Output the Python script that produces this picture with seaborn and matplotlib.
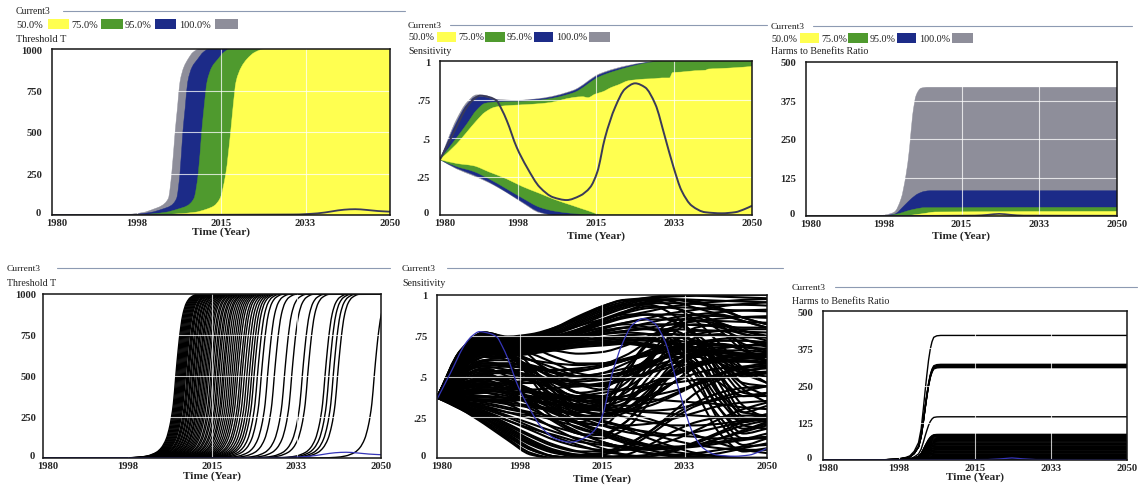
import numpy as np
import pandas as pd
import matplotlib
matplotlib.use("Agg")
import matplotlib.pyplot as plt
import matplotlib.transforms as mtransforms
from matplotlib.path import Path
from matplotlib.patches import PathPatch, Rectangle
import seaborn as sns

# ------------------------------------------------------------------ data
YEAR_TICKS = [1980, 1997.5, 2015, 2032.5, 2050]
YEAR_LABELS = ["1980", "1998", "2015", "2033", "2050"]
BAND_LABELS = ["50.0%", "75.0%", "95.0%", "100.0%"]
BAND_COLORS = ["#ffff50", "#4f9a2e", "#1c2b88", "#8e8e9a"]

# Threshold T: upper confidence bounds (lower bounds stay at ~0)
thr_grey_t = [1980, 1995, 1999, 2001, 2002.7, 2004.1, 2004.8, 2005.5, 2006.0, 2006.5, 2007.3, 2008.2, 2009.2, 2010.5, 2050]
thr_grey_v = [0, 2, 16, 35, 56, 100, 250, 500, 650, 800, 890, 940, 980, 1000, 1000]
thr_blue_t = [1980, 1996, 2000.5, 2002.8, 2004.6, 2005.8, 2006.5, 2007.1, 2007.6, 2008.1, 2009.0, 2010.2, 2011.3, 2012.5, 2050]
thr_blue_v = [0, 2, 16, 35, 56, 100, 250, 500, 650, 800, 890, 940, 980, 1000, 1000]
thr_green_t = [1980, 1998, 2003.5, 2006.0, 2008.0, 2009.4, 2010.3, 2011.0, 2011.5, 2012.1, 2013.1, 2014.4, 2015.6, 2016.8, 2050]
thr_green_v = [0, 2, 16, 35, 56, 100, 250, 500, 650, 800, 890, 940, 980, 1000, 1000]
thr_yellow_t = [1980, 2002, 2009.5, 2012.0, 2013.6, 2014.8, 2016.0, 2017.0, 2017.5, 2018.1, 2019.2, 2020.4, 2022.0, 2024.0, 2050]
thr_yellow_v = [0, 2, 16, 35, 56, 100, 250, 500, 650, 800, 890, 940, 980, 1000, 1000]
thr_cur_t = [1980, 2000, 2030, 2035, 2038, 2040.5, 2042.8, 2045, 2047.5, 2050]
thr_cur_v = [0, 1, 3, 10, 22, 32, 35, 31, 24, 20]

# Threshold T individual runs: one S-shaped rise, shifted to each run's 500-crossing year
thr_shape_dt = [-40, -12, -8, -6, -4, -3, -2, -1.2, -0.5, 0, 0.5, 1.0, 1.5, 2.2, 3.0, 4.5, 70]
thr_shape_v = [0, 0, 4, 12, 35, 62, 115, 200, 330, 500, 660, 790, 880, 945, 978, 998, 1000]
thr_run_mid = [2007.5, 2007.7, 2007.9, 2008.1, 2008.3, 2008.5, 2008.7, 2008.9, 2009.1, 2009.3,
               2009.5, 2009.8, 2010.0, 2010.2, 2010.5, 2010.7, 2011.0, 2011.2, 2011.5, 2011.7,
               2012.0, 2012.3, 2012.5, 2012.8, 2013.1, 2013.4, 2013.7, 2014.0, 2014.3, 2014.7,
               2015.0, 2015.4, 2015.7, 2016.1, 2016.4, 2016.8, 2017.2, 2017.5, 2017.9, 2018.3,
               2018.7, 2019.1, 2019.5, 2019.9, 2020.3, 2020.8, 2021.2, 2021.7, 2022.2, 2022.7,
               2023.2, 2023.7, 2024.4, 2025.2, 2026.5, 2027.9, 2030.0, 2031.5, 2033.7, 2034.8,
               2038.4, 2039.2, 2040.1, 2041.0, 2048.6]

# Sensitivity: confidence bounds
sens_hi_t = [1980, 1983.7, 1986, 1988.2, 1990.1, 1992.3, 1997.2, 2002.4, 2009.9, 2015.9, 2022.3, 2026, 2029.8, 2050]
sens_grey_hi = [0.36, 0.62, 0.73, 0.78, 0.778, 0.752, 0.745, 0.757, 0.81, 0.918, 0.972, 0.99, 1.0, 1.0]
sens_blue_hi = [0.36, 0.60, 0.715, 0.768, 0.766, 0.748, 0.742, 0.753, 0.805, 0.912, 0.967, 0.988, 1.0, 1.0]
sens_green_hi = [0.36, 0.50, 0.59, 0.68, 0.725, 0.733, 0.736, 0.746, 0.793, 0.90, 0.96, 0.985, 1.0, 1.0]
sens_yellow_hi_t = [1980, 1983.7, 1986, 1988.2, 1990.1, 1992.3, 1995, 1998, 2001, 2004.7, 2007, 2009.9, 2012,
                    2013.2, 2014.8, 2016.5, 2018.5, 2020, 2022.3, 2024, 2026, 2028, 2029.8, 2031.5, 2032.2,
                    2034, 2037.3, 2039.5, 2040.3, 2042, 2044.8, 2047, 2049.3, 2050]
sens_yellow_hi = [0.36, 0.46, 0.537, 0.612, 0.667, 0.70, 0.71, 0.715, 0.72, 0.73, 0.745, 0.763, 0.768,
                  0.762, 0.785, 0.80, 0.829, 0.845, 0.872, 0.878, 0.883, 0.885, 0.89, 0.89, 0.925,
                  0.928, 0.937, 0.94, 0.948, 0.95, 0.954, 0.958, 0.963, 0.965]
sens_lo_t = [1980, 1983.7, 1987.5, 1991, 1995, 1998.5, 2002.4, 2005.8, 2009.9, 2013, 2016, 2050]
sens_grey_lo = [0.36, 0.30, 0.255, 0.21, 0.145, 0.08, 0.015, 0, 0, 0, 0, 0]
sens_blue_lo = [0.36, 0.305, 0.262, 0.215, 0.148, 0.085, 0.02, 0, 0, 0, 0, 0]
sens_green_lo = [0.36, 0.315, 0.283, 0.235, 0.169, 0.11, 0.05, 0.025, 0.01, 0.003, 0, 0]
sens_yellow_lo = [0.36, 0.335, 0.32, 0.28, 0.234, 0.185, 0.14, 0.10, 0.06, 0.03, 0.005, 0]

# Sensitivity: the Current3 run
sens_cur_t = [1980, 1983, 1986, 1987.5, 1989, 1991.2, 1992.7, 1993.8, 1995, 1997.2, 1999.5, 2002.4,
              2005.4, 2008.4, 2011.4, 2013.7, 2015.3, 2017, 2019.3, 2021.5, 2023.8, 2026, 2028.3,
              2030.5, 2032.4, 2034.2, 2036.5, 2039.5, 2043.2, 2046.2, 2048.4, 2050]
sens_cur_v = [0.36, 0.53, 0.70, 0.75, 0.775, 0.764, 0.742, 0.688, 0.612, 0.44, 0.31, 0.18,
              0.115, 0.097, 0.125, 0.18, 0.28, 0.50, 0.70, 0.818, 0.855, 0.829, 0.72,
              0.504, 0.31, 0.158, 0.06, 0.018, 0.011, 0.018, 0.039, 0.06]

# Sensitivity: individual runs, values every five years
SENS_RUN_YEARS = [1980, 1985, 1990, 1995, 2000, 2005, 2010, 2015, 2020, 2025, 2030, 2035, 2040, 2045, 2050]
sens_runs = [
    [0.37, 0.66, 0.77, 0.745, 0.76, 0.80, 0.86, 0.92, 0.96, 0.985, 1.0, 1.0, 1.0, 1.0, 1.0],
    [0.37, 0.65, 0.76, 0.74, 0.75, 0.79, 0.85, 0.91, 0.95, 0.98, 0.99, 0.995, 0.99, 0.985, 0.98],
    [0.37, 0.64, 0.75, 0.73, 0.74, 0.77, 0.83, 0.89, 0.94, 0.97, 0.975, 0.97, 0.965, 0.96, 0.955],
    [0.37, 0.63, 0.74, 0.72, 0.73, 0.76, 0.81, 0.87, 0.92, 0.95, 0.95, 0.945, 0.94, 0.94, 0.935],
    [0.37, 0.62, 0.73, 0.71, 0.72, 0.75, 0.79, 0.84, 0.89, 0.92, 0.925, 0.92, 0.91, 0.905, 0.90],
    [0.37, 0.61, 0.72, 0.70, 0.71, 0.74, 0.78, 0.82, 0.86, 0.88, 0.88, 0.875, 0.87, 0.865, 0.86],
    [0.37, 0.60, 0.71, 0.69, 0.70, 0.72, 0.76, 0.80, 0.83, 0.85, 0.85, 0.845, 0.84, 0.835, 0.83],
    [0.37, 0.59, 0.70, 0.68, 0.69, 0.71, 0.74, 0.78, 0.80, 0.82, 0.82, 0.815, 0.81, 0.80, 0.80],
    [0.37, 0.58, 0.69, 0.67, 0.68, 0.70, 0.73, 0.76, 0.78, 0.79, 0.79, 0.785, 0.78, 0.775, 0.77],
    [0.37, 0.57, 0.68, 0.66, 0.67, 0.69, 0.72, 0.74, 0.755, 0.76, 0.76, 0.755, 0.75, 0.745, 0.74],
    [0.37, 0.64, 0.75, 0.73, 0.75, 0.80, 0.87, 0.93, 0.97, 0.98, 0.96, 0.92, 0.88, 0.84, 0.80],
    [0.37, 0.62, 0.73, 0.71, 0.72, 0.76, 0.82, 0.88, 0.93, 0.96, 0.97, 0.95, 0.91, 0.86, 0.82],
    [0.37, 0.60, 0.71, 0.70, 0.71, 0.74, 0.79, 0.85, 0.90, 0.93, 0.92, 0.88, 0.83, 0.78, 0.75],
    [0.37, 0.58, 0.69, 0.68, 0.70, 0.73, 0.77, 0.82, 0.87, 0.90, 0.93, 0.95, 0.96, 0.97, 0.975],
    [0.37, 0.56, 0.67, 0.67, 0.69, 0.72, 0.75, 0.79, 0.83, 0.86, 0.89, 0.91, 0.93, 0.945, 0.955],
    [0.37, 0.55, 0.66, 0.66, 0.68, 0.71, 0.74, 0.77, 0.80, 0.83, 0.86, 0.88, 0.895, 0.905, 0.91],
    [0.37, 0.54, 0.65, 0.65, 0.67, 0.70, 0.73, 0.76, 0.78, 0.80, 0.82, 0.84, 0.855, 0.865, 0.87],
    [0.37, 0.64, 0.74, 0.66, 0.48, 0.30, 0.22, 0.28, 0.50, 0.72, 0.78, 0.70, 0.45, 0.25, 0.22],
    [0.37, 0.62, 0.72, 0.66, 0.52, 0.36, 0.28, 0.33, 0.52, 0.70, 0.76, 0.66, 0.40, 0.20, 0.18],
    [0.37, 0.60, 0.70, 0.64, 0.50, 0.34, 0.22, 0.20, 0.34, 0.58, 0.74, 0.72, 0.50, 0.28, 0.26],
    [0.37, 0.58, 0.68, 0.64, 0.55, 0.42, 0.32, 0.30, 0.42, 0.60, 0.72, 0.70, 0.55, 0.40, 0.38],
    [0.37, 0.56, 0.66, 0.62, 0.52, 0.40, 0.30, 0.26, 0.33, 0.50, 0.66, 0.72, 0.62, 0.45, 0.38],
    [0.37, 0.55, 0.64, 0.62, 0.56, 0.48, 0.40, 0.38, 0.46, 0.60, 0.70, 0.70, 0.58, 0.46, 0.44],
    [0.37, 0.60, 0.71, 0.69, 0.70, 0.72, 0.74, 0.76, 0.77, 0.76, 0.70, 0.50, 0.22, 0.08, 0.12],
    [0.37, 0.58, 0.69, 0.68, 0.69, 0.70, 0.72, 0.74, 0.75, 0.74, 0.68, 0.52, 0.30, 0.18, 0.22],
    [0.37, 0.57, 0.68, 0.67, 0.68, 0.70, 0.72, 0.73, 0.74, 0.73, 0.70, 0.60, 0.40, 0.28, 0.32],
    [0.37, 0.56, 0.67, 0.66, 0.67, 0.69, 0.71, 0.72, 0.73, 0.72, 0.70, 0.64, 0.50, 0.38, 0.40],
    [0.37, 0.55, 0.66, 0.65, 0.66, 0.68, 0.70, 0.71, 0.72, 0.72, 0.71, 0.67, 0.58, 0.50, 0.52],
    [0.37, 0.62, 0.73, 0.71, 0.72, 0.74, 0.77, 0.80, 0.82, 0.80, 0.72, 0.55, 0.30, 0.15, 0.18],
    [0.37, 0.61, 0.72, 0.70, 0.71, 0.73, 0.75, 0.78, 0.80, 0.79, 0.74, 0.60, 0.38, 0.24, 0.27],
    [0.37, 0.54, 0.65, 0.64, 0.65, 0.67, 0.69, 0.70, 0.71, 0.70, 0.66, 0.55, 0.35, 0.22, 0.25],
    [0.37, 0.53, 0.64, 0.64, 0.66, 0.68, 0.70, 0.71, 0.71, 0.69, 0.62, 0.45, 0.25, 0.12, 0.15],
    [0.37, 0.52, 0.62, 0.63, 0.65, 0.67, 0.69, 0.70, 0.70, 0.68, 0.60, 0.40, 0.15, 0.04, 0.06],
    [0.37, 0.50, 0.60, 0.62, 0.64, 0.66, 0.68, 0.69, 0.70, 0.69, 0.66, 0.58, 0.46, 0.38, 0.40],
    [0.37, 0.50, 0.58, 0.58, 0.56, 0.52, 0.50, 0.52, 0.58, 0.64, 0.67, 0.66, 0.60, 0.54, 0.55],
    [0.37, 0.50, 0.55, 0.50, 0.40, 0.28, 0.18, 0.15, 0.22, 0.38, 0.55, 0.65, 0.66, 0.62, 0.60],
    [0.37, 0.48, 0.52, 0.46, 0.36, 0.24, 0.15, 0.12, 0.18, 0.34, 0.52, 0.63, 0.65, 0.62, 0.60],
    [0.37, 0.46, 0.48, 0.42, 0.32, 0.22, 0.15, 0.14, 0.22, 0.40, 0.58, 0.68, 0.70, 0.68, 0.66],
    [0.37, 0.45, 0.50, 0.47, 0.40, 0.32, 0.26, 0.25, 0.30, 0.42, 0.55, 0.63, 0.66, 0.66, 0.65],
    [0.37, 0.44, 0.46, 0.42, 0.36, 0.30, 0.26, 0.26, 0.30, 0.38, 0.46, 0.52, 0.55, 0.56, 0.56],
    [0.37, 0.42, 0.44, 0.40, 0.34, 0.28, 0.24, 0.24, 0.28, 0.36, 0.46, 0.56, 0.62, 0.64, 0.64],
    [0.37, 0.37, 0.37, 0.37, 0.37, 0.37, 0.37, 0.37, 0.36, 0.36, 0.35, 0.34, 0.33, 0.31, 0.30],
    [0.37, 0.36, 0.35, 0.35, 0.36, 0.37, 0.38, 0.40, 0.42, 0.44, 0.46, 0.48, 0.50, 0.51, 0.52],
    [0.37, 0.40, 0.42, 0.42, 0.42, 0.43, 0.44, 0.46, 0.48, 0.52, 0.56, 0.58, 0.60, 0.61, 0.62],
    [0.37, 0.38, 0.38, 0.37, 0.35, 0.33, 0.31, 0.30, 0.29, 0.28, 0.27, 0.26, 0.25, 0.24, 0.24],
    [0.37, 0.30, 0.22, 0.12, 0.03, 0.0, 0, 0, 0, 0, 0, 0, 0, 0, 0],
    [0.37, 0.31, 0.24, 0.15, 0.06, 0.01, 0, 0, 0, 0, 0, 0, 0, 0, 0],
    [0.37, 0.32, 0.26, 0.18, 0.10, 0.04, 0.01, 0, 0, 0, 0, 0, 0, 0, 0],
    [0.37, 0.33, 0.28, 0.21, 0.14, 0.08, 0.04, 0.015, 0, 0, 0, 0, 0, 0, 0],
    [0.37, 0.34, 0.30, 0.25, 0.19, 0.13, 0.08, 0.04, 0.02, 0.005, 0, 0, 0, 0, 0],
    [0.37, 0.35, 0.32, 0.28, 0.24, 0.19, 0.15, 0.10, 0.06, 0.03, 0.01, 0, 0, 0, 0],
    [0.37, 0.36, 0.34, 0.31, 0.28, 0.25, 0.21, 0.17, 0.12, 0.08, 0.04, 0.02, 0.01, 0, 0],
    [0.37, 0.36, 0.35, 0.33, 0.31, 0.29, 0.26, 0.23, 0.19, 0.15, 0.11, 0.08, 0.06, 0.05, 0.05],
    [0.37, 0.34, 0.31, 0.28, 0.26, 0.24, 0.22, 0.20, 0.18, 0.16, 0.14, 0.13, 0.12, 0.12, 0.12],
    [0.37, 0.33, 0.28, 0.23, 0.18, 0.14, 0.10, 0.08, 0.06, 0.05, 0.06, 0.08, 0.12, 0.16, 0.20],
    [0.37, 0.32, 0.25, 0.16, 0.08, 0.03, 0.01, 0.02, 0.06, 0.14, 0.24, 0.32, 0.36, 0.38, 0.38],
    [0.37, 0.31, 0.23, 0.14, 0.05, 0.01, 0, 0, 0.02, 0.08, 0.16, 0.22, 0.25, 0.26, 0.26],
    [0.37, 0.52, 0.56, 0.54, 0.50, 0.46, 0.44, 0.45, 0.50, 0.57, 0.63, 0.66, 0.66, 0.64, 0.63],
    [0.37, 0.50, 0.54, 0.52, 0.48, 0.42, 0.38, 0.38, 0.43, 0.52, 0.60, 0.64, 0.63, 0.60, 0.58],
    [0.37, 0.48, 0.50, 0.47, 0.42, 0.36, 0.32, 0.32, 0.36, 0.44, 0.52, 0.58, 0.60, 0.60, 0.59],
    [0.37, 0.47, 0.52, 0.52, 0.50, 0.47, 0.45, 0.45, 0.48, 0.53, 0.58, 0.62, 0.64, 0.64, 0.63],
    [0.37, 0.46, 0.49, 0.46, 0.40, 0.33, 0.27, 0.22, 0.20, 0.21, 0.24, 0.28, 0.32, 0.34, 0.35],
    [0.37, 0.43, 0.45, 0.42, 0.37, 0.31, 0.25, 0.20, 0.16, 0.14, 0.14, 0.16, 0.19, 0.22, 0.24],
    [0.37, 0.41, 0.42, 0.39, 0.34, 0.28, 0.22, 0.16, 0.11, 0.08, 0.07, 0.08, 0.10, 0.12, 0.13],
    [0.37, 0.40, 0.40, 0.36, 0.30, 0.23, 0.16, 0.10, 0.06, 0.03, 0.02, 0.03, 0.05, 0.07, 0.08],
    [0.37, 0.39, 0.38, 0.33, 0.26, 0.18, 0.11, 0.06, 0.02, 0, 0, 0, 0, 0, 0],
    [0.37, 0.53, 0.60, 0.60, 0.57, 0.53, 0.50, 0.50, 0.53, 0.58, 0.62, 0.62, 0.58, 0.52, 0.50],
    [0.37, 0.54, 0.62, 0.62, 0.60, 0.58, 0.57, 0.58, 0.61, 0.65, 0.68, 0.68, 0.63, 0.55, 0.52],
    [0.37, 0.55, 0.63, 0.60, 0.52, 0.42, 0.34, 0.30, 0.34, 0.46, 0.62, 0.74, 0.76, 0.70, 0.64],
    [0.37, 0.57, 0.65, 0.62, 0.54, 0.44, 0.36, 0.34, 0.40, 0.54, 0.70, 0.80, 0.82, 0.78, 0.74],
    [0.37, 0.59, 0.67, 0.65, 0.60, 0.52, 0.46, 0.44, 0.50, 0.62, 0.76, 0.86, 0.88, 0.84, 0.80],
    [0.37, 0.30, 0.21, 0.11, 0.02, 0, 0, 0, 0, 0, 0, 0.01, 0.03, 0.06, 0.09],
    [0.37, 0.31, 0.22, 0.13, 0.05, 0.01, 0, 0, 0, 0.01, 0.04, 0.09, 0.15, 0.20, 0.23],
    [0.37, 0.32, 0.25, 0.17, 0.09, 0.04, 0.02, 0.03, 0.08, 0.16, 0.26, 0.34, 0.40, 0.43, 0.44],
    [0.37, 0.33, 0.27, 0.20, 0.13, 0.07, 0.04, 0.04, 0.08, 0.16, 0.28, 0.40, 0.48, 0.52, 0.53],
    [0.37, 0.34, 0.29, 0.23, 0.17, 0.11, 0.07, 0.05, 0.05, 0.07, 0.11, 0.17, 0.24, 0.30, 0.34],
    [0.37, 0.35, 0.31, 0.26, 0.21, 0.16, 0.12, 0.09, 0.07, 0.06, 0.06, 0.07, 0.09, 0.11, 0.13],
    [0.37, 0.35, 0.33, 0.30, 0.27, 0.23, 0.19, 0.14, 0.09, 0.05, 0.02, 0.01, 0, 0, 0],
    [0.37, 0.36, 0.35, 0.34, 0.32, 0.30, 0.27, 0.23, 0.18, 0.12, 0.07, 0.03, 0.01, 0, 0],
    [0.37, 0.37, 0.36, 0.36, 0.35, 0.34, 0.33, 0.31, 0.28, 0.24, 0.19, 0.14, 0.09, 0.05, 0.03],
    [0.37, 0.33, 0.27, 0.19, 0.11, 0.05, 0.02, 0.01, 0.01, 0.02, 0.05, 0.10, 0.16, 0.22, 0.26],
    [0.37, 0.49, 0.55, 0.56, 0.55, 0.54, 0.54, 0.56, 0.60, 0.66, 0.72, 0.76, 0.78, 0.79, 0.79],
    [0.37, 0.51, 0.58, 0.58, 0.55, 0.50, 0.45, 0.42, 0.42, 0.46, 0.52, 0.58, 0.62, 0.63, 0.63],
    [0.37, 0.52, 0.59, 0.56, 0.48, 0.38, 0.30, 0.27, 0.30, 0.40, 0.54, 0.66, 0.72, 0.72, 0.70],
    [0.37, 0.47, 0.51, 0.48, 0.42, 0.35, 0.29, 0.27, 0.29, 0.36, 0.46, 0.56, 0.62, 0.64, 0.64],
    [0.37, 0.45, 0.47, 0.45, 0.41, 0.37, 0.35, 0.35, 0.38, 0.44, 0.51, 0.57, 0.61, 0.62, 0.62],
    [0.37, 0.44, 0.48, 0.49, 0.49, 0.49, 0.50, 0.52, 0.55, 0.59, 0.63, 0.66, 0.68, 0.69, 0.69],
    [0.37, 0.42, 0.45, 0.46, 0.46, 0.47, 0.48, 0.50, 0.53, 0.56, 0.60, 0.64, 0.67, 0.69, 0.70],
    [0.37, 0.41, 0.43, 0.43, 0.41, 0.39, 0.37, 0.36, 0.36, 0.38, 0.41, 0.45, 0.49, 0.53, 0.56],
    [0.37, 0.39, 0.41, 0.41, 0.40, 0.38, 0.35, 0.32, 0.30, 0.29, 0.30, 0.33, 0.37, 0.41, 0.44],
    [0.37, 0.40, 0.44, 0.46, 0.48, 0.50, 0.53, 0.56, 0.60, 0.64, 0.68, 0.71, 0.73, 0.74, 0.74],
    [0.37, 0.66, 0.77, 0.73, 0.62, 0.48, 0.40, 0.42, 0.55, 0.72, 0.84, 0.86, 0.78, 0.66, 0.60],
    [0.37, 0.65, 0.76, 0.70, 0.56, 0.40, 0.30, 0.30, 0.42, 0.62, 0.80, 0.88, 0.82, 0.68, 0.58],
    [0.37, 0.63, 0.74, 0.72, 0.68, 0.62, 0.58, 0.58, 0.63, 0.72, 0.80, 0.84, 0.82, 0.76, 0.72],
    [0.37, 0.61, 0.72, 0.71, 0.69, 0.66, 0.64, 0.65, 0.69, 0.75, 0.80, 0.82, 0.80, 0.76, 0.74],
    [0.37, 0.59, 0.70, 0.68, 0.64, 0.58, 0.52, 0.50, 0.53, 0.61, 0.71, 0.78, 0.78, 0.73, 0.68],
    [0.37, 0.63, 0.74, 0.73, 0.74, 0.77, 0.81, 0.85, 0.88, 0.88, 0.84, 0.74, 0.58, 0.42, 0.34],
    [0.37, 0.65, 0.76, 0.74, 0.75, 0.78, 0.84, 0.90, 0.94, 0.94, 0.88, 0.74, 0.52, 0.32, 0.24],
    [0.37, 0.61, 0.72, 0.70, 0.71, 0.74, 0.78, 0.83, 0.87, 0.88, 0.84, 0.76, 0.64, 0.52, 0.46],
    [0.37, 0.66, 0.77, 0.74, 0.75, 0.79, 0.86, 0.93, 0.97, 0.97, 0.93, 0.84, 0.70, 0.55, 0.46],
    [0.37, 0.64, 0.75, 0.72, 0.72, 0.74, 0.78, 0.84, 0.90, 0.95, 0.97, 0.96, 0.92, 0.86, 0.82],
    [0.37, 0.51, 0.57, 0.57, 0.53, 0.46, 0.40, 0.37, 0.38, 0.43, 0.50, 0.56, 0.59, 0.59, 0.58],
    [0.37, 0.49, 0.53, 0.53, 0.51, 0.48, 0.47, 0.48, 0.52, 0.58, 0.65, 0.70, 0.72, 0.72, 0.71],
    [0.37, 0.45, 0.49, 0.50, 0.47, 0.42, 0.37, 0.33, 0.32, 0.34, 0.39, 0.46, 0.52, 0.56, 0.58],
    [0.37, 0.43, 0.46, 0.44, 0.40, 0.35, 0.31, 0.29, 0.29, 0.32, 0.38, 0.45, 0.51, 0.55, 0.57],
    [0.37, 0.41, 0.41, 0.40, 0.38, 0.35, 0.32, 0.29, 0.25, 0.22, 0.20, 0.20, 0.21, 0.23, 0.25],
    [0.37, 0.39, 0.40, 0.38, 0.33, 0.27, 0.21, 0.15, 0.10, 0.07, 0.06, 0.08, 0.12, 0.17, 0.21],
    [0.37, 0.56, 0.64, 0.64, 0.60, 0.55, 0.50, 0.48, 0.50, 0.56, 0.64, 0.70, 0.70, 0.66, 0.62],
    [0.37, 0.47, 0.52, 0.54, 0.54, 0.54, 0.55, 0.57, 0.60, 0.63, 0.66, 0.68, 0.69, 0.68, 0.67],
]

# Harms to Benefits Ratio: confidence bounds
hbr_grey_t = [1980, 1996, 1998, 1999.9, 2001.4, 2002.5, 2003.3, 2004.0, 2004.8, 2005.9, 2007.4, 2050]
hbr_grey_v = [0, 1, 4, 13, 56, 132, 219, 327, 392, 415, 418, 418]
hbr_blue_t = [1980, 1997, 1999.9, 2002.2, 2003.7, 2005.2, 2006.7, 2008, 2050]
hbr_blue_v = [0, 1, 6, 35, 56, 72, 80, 82, 82]
hbr_green_t = [1980, 1998, 2001, 2002.5, 2004.4, 2006.7, 2050]
hbr_green_v = [0, 1, 8, 15, 22, 27, 28]
hbr_yellow_t = [1980, 2002, 2005, 2007.4, 2009, 2050]
hbr_yellow_v = [0, 1, 5, 10, 13, 15]
hbr_cur_t = [1980, 2000, 2018, 2021, 2023.5, 2026, 2029, 2050]
hbr_cur_v = [0, 0.5, 1.5, 4, 7, 4, 1.5, 1]

# Harms to Benefits Ratio: runs share one rise, each levelling off at its own plateau
hbr_shape_t = [1980, 1994, 1997, 1999, 2000.0, 2001, 2002.0, 2002.6, 2003.1, 2003.5, 2003.9, 2004.3,
               2004.7, 2005.1, 2005.5, 2006.2, 2007.1, 2050]
hbr_shape_frac = [0, 0.002, 0.008, 0.02, 0.033, 0.07, 0.14, 0.25, 0.41, 0.55, 0.68, 0.80,
                  0.89, 0.95, 0.985, 0.997, 1, 1]
hbr_run_plateau = [418, 321, 318, 316, 314, 312, 310, 145, 86, 84, 82, 80, 78, 75, 72, 69, 66,
                   63, 60, 57, 55, 52, 50, 47, 45, 42, 40, 38, 35, 33, 30, 28, 25, 23, 20, 18,
                   15, 12, 10, 8, 6, 4, 2]

# ------------------------------------------------------------------ helpers
W, H = 1138, 489
FONT = ["Liberation Serif", "DejaVu Serif"]


def pchip_slopes(x, y):
    x = np.asarray(x, float)
    y = np.asarray(y, float)
    h = np.diff(x)
    d = np.diff(y) / h
    m = np.zeros(len(x))
    m[0], m[-1] = d[0], d[-1]
    for k in range(1, len(x) - 1):
        if d[k - 1] * d[k] <= 0:
            m[k] = 0.0
        else:
            w1 = 2 * h[k] + h[k - 1]
            w2 = h[k] + 2 * h[k - 1]
            m[k] = (w1 + w2) / (w1 / d[k - 1] + w2 / d[k])
    return m


def curve_vertices(x, y):
    """Smooth Bezier vertices through the given points."""
    x = np.asarray(x, float)
    y = np.asarray(y, float)
    m = pchip_slopes(x, y)
    verts = [(x[0], y[0])]
    for i in range(len(x) - 1):
        h = x[i + 1] - x[i]
        verts += [(x[i] + h / 3, y[i] + m[i] * h / 3),
                  (x[i + 1] - h / 3, y[i + 1] - m[i + 1] * h / 3),
                  (x[i + 1], y[i + 1])]
    return verts


def draw_curve(ax, x, y, color, lw, z=3):
    verts = curve_vertices(x, y)
    codes = [Path.MOVETO] + [Path.CURVE4] * (len(verts) - 1)
    ax.add_patch(PathPatch(Path(verts, codes), fill=False, edgecolor=color,
                           lw=lw, zorder=z, capstyle="butt", joinstyle="round"))


def draw_band(ax, t_hi, v_hi, t_lo, v_lo, color, z=2):
    upper = curve_vertices(t_hi, v_hi)
    lower = curve_vertices(t_lo, v_lo)[::-1]
    verts = upper + lower + [upper[0]]
    codes = ([Path.MOVETO] + [Path.CURVE4] * (len(upper) - 1) + [Path.LINETO]
             + [Path.CURVE4] * (len(lower) - 1) + [Path.CLOSEPOLY])
    ax.add_patch(PathPatch(Path(verts, codes), facecolor=color, edgecolor=color,
                           lw=0.3, zorder=z))


def px_axes(fig, left, top, right, bottom):
    return fig.add_axes([left / W, 1 - bottom / H, (right - left) / W, (bottom - top) / H])


def style_axes(ax, yticks, ylabels, ypad, xlabel_pad=0.5):
    ax.set_xlim(1980, 2050)
    ax.set_ylim(yticks[0], yticks[-1])
    ax.set_xticks(YEAR_TICKS)
    ax.set_xticklabels(YEAR_LABELS)
    ax.set_yticks(yticks)
    ax.set_yticklabels(ylabels)
    ax.tick_params(axis="both", length=0, labelsize=7.6)
    ax.tick_params(axis="y", pad=ypad)
    ax.tick_params(axis="x", pad=2.0)
    for lab in ax.get_xticklabels() + ax.get_yticklabels():
        lab.set_fontweight("bold")
        lab.set_family(FONT)
    # the corner labels sit apart: "0" a little higher, "1980" a little to the right
    first_x = ax.get_xticklabels()[0]
    first_x.set_transform(first_x.get_transform()
                          + mtransforms.ScaledTranslation(5 / 100, 0, fig.dpi_scale_trans))
    first_y = ax.get_yticklabels()[0]
    first_y.set_transform(first_y.get_transform()
                          + mtransforms.ScaledTranslation(-1 / 100, 3 / 100, fig.dpi_scale_trans))
    ax.set_xlabel("Time (Year)", fontsize=8.2, fontweight="bold", family=FONT, labelpad=xlabel_pad)
    ax.set_ylabel("")
    ax.set_facecolor("white")
    for s in ax.spines.values():
        s.set_visible(True)
        s.set_color("#151515")
        s.set_linewidth(1.1)
        s.set_zorder(6)
    for gx in YEAR_TICKS[1:-1]:
        ax.axvline(gx, color="white", lw=0.8, alpha=0.75, zorder=4)
    for gy in yticks[1:-1]:
        ax.axhline(gy, color="white", lw=0.8, alpha=0.75, zorder=4)


# ------------------------------------------------------------------ figure
sns.set_theme(style="white")
plt.rcParams["font.family"] = FONT
fig = plt.figure(figsize=(W / 100, H / 100), dpi=100)

ax_tl = px_axes(fig, 52, 50, 390, 216)
ax_tm = px_axes(fig, 440, 62, 752, 216)
ax_tr = px_axes(fig, 806, 63, 1117, 217)
ax_bl = px_axes(fig, 43, 295, 381, 459)
ax_bm = px_axes(fig, 437, 296, 767, 459)
ax_br = px_axes(fig, 823, 312, 1127, 461)

thr_ticks, thr_labels = [0, 250, 500, 750, 1000], ["0", "250", "500", "750", "1000"]
sens_ticks, sens_labels = [0, 0.25, 0.5, 0.75, 1.0], ["0", ".25", ".5", ".75", "1"]
hbr_ticks, hbr_labels = [0, 125, 250, 375, 500], ["0", "125", "250", "375", "500"]
zero_t, zero_v = [1980, 2050], [0, 0]
CUR_DARK = "#3a3a58"
CUR_BLUE = "#3535b8"

# Threshold T bands
for (t, v), col in zip([(thr_grey_t, thr_grey_v), (thr_blue_t, thr_blue_v),
                        (thr_green_t, thr_green_v), (thr_yellow_t, thr_yellow_v)],
                       BAND_COLORS[::-1]):
    draw_band(ax_tl, t, v, zero_t, zero_v, col)
draw_curve(ax_tl, thr_cur_t, thr_cur_v, CUR_DARK, 1.3, z=5)
style_axes(ax_tl, thr_ticks, thr_labels, ypad=7, xlabel_pad=-0.3)

# Sensitivity bands
draw_band(ax_tm, sens_hi_t, sens_grey_hi, sens_lo_t, sens_grey_lo, BAND_COLORS[3])
draw_band(ax_tm, sens_hi_t, sens_blue_hi, sens_lo_t, sens_blue_lo, BAND_COLORS[2])
draw_band(ax_tm, sens_hi_t, sens_green_hi, sens_lo_t, sens_green_lo, BAND_COLORS[1])
draw_band(ax_tm, sens_yellow_hi_t, sens_yellow_hi, sens_lo_t, sens_yellow_lo, BAND_COLORS[0])
draw_curve(ax_tm, sens_cur_t, sens_cur_v, CUR_DARK, 1.4, z=5)
style_axes(ax_tm, sens_ticks, sens_labels, ypad=7, xlabel_pad=2.5)

# Harms to Benefits Ratio bands
for (t, v), col in zip([(hbr_grey_t, hbr_grey_v), (hbr_blue_t, hbr_blue_v),
                        (hbr_green_t, hbr_green_v), (hbr_yellow_t, hbr_yellow_v)],
                       BAND_COLORS[::-1]):
    draw_band(ax_tr, t, v, zero_t, zero_v, col)
draw_curve(ax_tr, hbr_cur_t, hbr_cur_v, CUR_DARK, 1.2, z=5)
style_axes(ax_tr, hbr_ticks, hbr_labels, ypad=7, xlabel_pad=2.0)

# Threshold T runs
for mid in thr_run_mid:
    draw_curve(ax_bl, np.add(thr_shape_dt, mid), thr_shape_v, "black", 1.0)
draw_curve(ax_bl, thr_cur_t, thr_cur_v, CUR_BLUE, 0.9, z=5)
style_axes(ax_bl, thr_ticks, thr_labels, ypad=5, xlabel_pad=0.3)

# Sensitivity runs
for run in sens_runs:
    draw_curve(ax_bm, SENS_RUN_YEARS, run, "black", 1.5)
draw_curve(ax_bm, sens_cur_t, sens_cur_v, CUR_BLUE, 0.9, z=5)
style_axes(ax_bm, sens_ticks, sens_labels, ypad=7, xlabel_pad=2.5)

# Harms to Benefits Ratio runs
hbr_runs = pd.DataFrame(
    [(i, t, f * level) for i, level in enumerate(hbr_run_plateau)
     for t, f in zip(hbr_shape_t, hbr_shape_frac)],
    columns=["run", "year", "ratio"])
sns.lineplot(data=hbr_runs, x="year", y="ratio", units="run", estimator=None,
             color="black", lw=1.0, legend=False, ax=ax_br, zorder=3)
sns.lineplot(x=hbr_cur_t, y=hbr_cur_v, color=CUR_BLUE, lw=0.9, ax=ax_br, zorder=5)
style_axes(ax_br, hbr_ticks, hbr_labels, ypad=7, xlabel_pad=-0.3)

# ------------------------------------------------------------------ headers
ov = fig.add_axes([0, 0, 1, 1], zorder=10)
ov.set_xlim(0, W)
ov.set_ylim(H, 0)
ov.axis("off")
RULE = "#8d9ab2"


def header(x, y, rule_from, rule_to, var_y, name, legend_y=None, scale=1.0, fs=6.8):
    ov.text(x, y, "Current3", fontsize=fs, va="center", ha="left", color="#202020")
    ov.plot([rule_from, rule_to], [y, y], color=RULE, lw=0.8)
    ov.text(x, var_y, name, fontsize=fs + 0.4, va="center", ha="left", color="#202020")
    if legend_y is not None:
        text_off = [0, 50, 99, 148]
        swatch = [(29, 48), (77, 97), (126, 145), (181, 202)]
        for lab, col, tx, (s0, s1) in zip(BAND_LABELS, BAND_COLORS, text_off, swatch):
            ov.text(x + tx * scale, legend_y, lab, fontsize=fs + 0.5, va="center", ha="left",
                    color="#202020")
            ov.add_patch(Rectangle((x + s0 * scale, legend_y - 5), (s1 - s0) * scale, 10,
                                   facecolor=col, edgecolor="none"))


header(16, 12, 63, 405, 39, "Threshold T", legend_y=25, scale=1.1, fs=7.0)
header(408, 26, 450, 767, 52, "Sensitivity", legend_y=38)
header(771, 27, 813, 1132, 52, "Harms to Benefits Ratio", legend_y=39)
header(7, 269, 57, 390, 284, "Threshold T")
header(402, 269, 447, 783, 284, "Sensitivity")
header(792, 288, 835, 1137, 302, "Harms to Benefits Ratio")

fig.savefig("out.png", dpi=100)
